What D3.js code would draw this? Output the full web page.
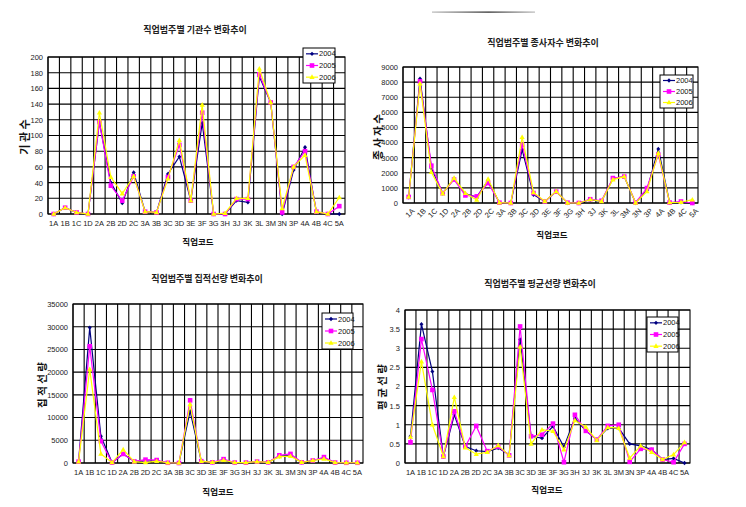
<!DOCTYPE html>
<html><head><meta charset="utf-8">
<script src="https://cdn.jsdelivr.net/npm/d3@7"></script>
<style>
body{margin:0;background:#fff;}
svg{display:block;}
.tick-y{font-family:"Liberation Sans",Arial,sans-serif;font-size:7.5px;fill:#222;}
.tick-x{font-family:"Liberation Sans",Arial,sans-serif;font-size:7.5px;fill:#222;}
.title{font-family:"Noto Sans CJK KR",sans-serif;font-size:9px;font-weight:700;fill:#222;}
.axt{font-family:"Noto Sans CJK KR",sans-serif;font-weight:700;fill:#111;}
.leg{font-family:"Liberation Sans",Arial,sans-serif;font-size:7.5px;fill:#111;}
</style></head>
<body>
<svg id="c" width="746" height="507"></svg>
<script>
// ---------- data ----------
const categories = ["1A","1B","1C","1D","2A","2B","2D","2C","3A","3B","3C","3D","3E","3F","3G","3H","3J","3K","3L","3M","3N","3P","4A","4B","4C","5A"];
const seriesNames = ["2004","2005","2006"];

// 기관수
const inst2004 = [0,8,2,0,117,40,14,53,3,2,51,73,17,116,0,0,17,15,175,142,0,56,85,2,0,0];
const inst2005 = [0,8,2,0,117,36,17,48,3,2,47,88,17,129,0,0,19,19,178,142,2,60,80,3,0,10];
const inst2006 = [0,8,2,0,129,47,26,48,3,2,45,94,17,139,0,1,20,20,185,142,7,60,75,3,0,21];
const instTicks = [0,20,40,60,80,100,120,140,160,180,200];

// 종사자수
const work2004 = [380,8230,2300,650,1600,600,400,1500,20,0,3530,550,100,750,0,0,220,110,1600,1750,0,850,3580,30,50,0];
const work2005 = [400,8050,2470,650,1550,500,440,1320,20,0,3860,660,100,750,20,0,250,150,1650,1750,30,990,3200,30,100,0];
const work2006 = [400,7900,2030,620,1650,650,200,1590,20,0,4350,700,110,770,0,0,230,110,1550,1750,0,770,3300,30,50,220];
const workTicks = [0,1000,2000,3000,4000,5000,6000,7000,8000,9000];

// 집적선량
const coll2004 = [300,29800,5900,100,2000,350,400,500,50,0,11400,400,150,600,100,100,300,150,1500,1700,150,550,1100,100,50,50];
const coll2005 = [300,25700,4800,100,2000,350,740,650,50,0,13800,400,150,850,100,100,300,150,1700,2000,150,550,1300,100,50,50];
const coll2006 = [300,20600,2000,100,2950,300,100,400,50,0,12900,400,150,600,100,100,300,150,1400,1500,150,550,900,100,50,50];
const collTicks = [0,5000,10000,15000,20000,25000,30000,35000];

// 평균선량
const avg2004 = [0.70,3.63,2.39,0.17,1.26,0.43,0.32,0.30,0.39,0.22,3.23,0.70,0.65,0.96,0.42,1.17,0.84,0.61,0.91,0.91,0.50,0.45,0.35,0.09,0.12,0.00];
const avg2005 = [0.54,3.24,1.91,0.17,1.35,0.43,0.97,0.31,0.43,0.20,3.57,0.70,0.74,1.03,0.02,1.26,0.84,0.61,0.97,1.00,0.03,0.37,0.35,0.09,0.02,0.50];
const avg2006 = [0.68,2.65,1.00,0.17,1.72,0.40,0.23,0.28,0.46,0.20,3.04,0.50,0.87,0.83,0.35,1.11,0.94,0.59,0.93,0.91,0.13,0.45,0.28,0.09,0.22,0.54];
const avgTicks = [0,0.5,1,1.5,2,2.5,3,3.5,4];

const titles = ["직업범주별 기관수 변화추이","직업범주별 종사자수 변화추이","직업범주별 집적선량 변화추이","직업범주별 평균선량 변화추이"];
const yTitles = ["기 관 수","종 사 자 수","집 적 선 량","평 균 선 량"];
const xTitle = "직업코드";

// ---------- drawing ----------
const colors = ["#000080","#ff00ff","#ffff00"];
const svg = d3.select("#c");

// decorative line at top
const lg = svg.append("defs").append("linearGradient").attr("id","tl");
lg.append("stop").attr("offset","0%").attr("stop-color","#bbb");
lg.append("stop").attr("offset","55%").attr("stop-color","#222");
lg.append("stop").attr("offset","100%").attr("stop-color","#bbb");
svg.append("rect").attr("x",432).attr("y",11.5).attr("width",103).attr("height",1.2).attr("fill","url(#tl)");

function chart(cfg){
  const g = svg.append("g");
  const x = d3.scaleBand().domain(categories).range([cfg.l,cfg.r]);
  const y = d3.scaleLinear().domain([0,cfg.ticks[cfg.ticks.length-1]]).range([cfg.b,cfg.t]);
  // gridlines
  cfg.ticks.forEach(v=>{
    g.append("line").attr("x1",cfg.l).attr("x2",cfg.r).attr("y1",y(v)).attr("y2",y(v))
      .attr("stroke","#000").attr("stroke-width",1.1);
  });
  categories.forEach((c,i)=>{
    const xx = x(c);
    g.append("line").attr("x1",xx).attr("x2",xx).attr("y1",cfg.t).attr("y2",cfg.b)
      .attr("stroke","#000").attr("stroke-width",1.1);
  });
  g.append("rect").attr("x",cfg.l).attr("y",cfg.t).attr("width",cfg.r-cfg.l).attr("height",cfg.b-cfg.t)
    .attr("fill","none").attr("stroke","#000").attr("stroke-width",1.1);
  // y axis labels
  const ya = d3.axisLeft(y).tickValues(cfg.ticks).tickSize(0).tickPadding(5).tickFormat(d=>String(d));
  const yg = g.append("g").attr("transform",`translate(${cfg.l},0)`).call(ya);
  yg.select(".domain").remove();
  yg.selectAll("text").attr("class","tick-y").attr("font-size",null).attr("font-family",null);
  // x axis labels
  const xa = d3.axisBottom(x).tickSize(0).tickPadding(cfg.rot?4:7);
  const xg = g.append("g").attr("transform",`translate(0,${cfg.b})`).call(xa);
  xg.select(".domain").remove();
  xg.selectAll("text").attr("class","tick-x").attr("font-size",null).attr("font-family",null);
  if(cfg.rot){
    xg.selectAll("text").attr("text-anchor","end").attr("dy","0.3em")
      .attr("transform","translate(2,4) rotate(-45)");
  }
  // series
  const line = d3.line().x((d,i)=>x(categories[i])+x.bandwidth()/2).y(d=>y(d));
  cfg.data.forEach((arr,si)=>{
    g.append("path").datum(arr).attr("d",line).attr("fill","none")
      .attr("stroke",colors[si]).attr("stroke-width",1.2);
    arr.forEach((v,i)=>{
      const cx = x(categories[i])+x.bandwidth()/2, cy = y(v);
      marker(g,si,cx,cy);
    });
  });
  // titles
  g.append("text").attr("class","title").attr("x",cfg.tx).attr("y",cfg.ty).attr("text-anchor","middle").text(cfg.title);
  g.append("text").attr("class","axt").attr("font-size",8.5).attr("x",cfg.xtx).attr("y",cfg.xty).attr("text-anchor","middle").text(xTitle);
  g.append("text").attr("class","axt").attr("font-size",cfg.ytSize)
    .attr("transform",`translate(${cfg.ytx},${cfg.yty}) rotate(-90)`).attr("text-anchor","middle").attr("dy","0.35em").text(cfg.ytitle);
  // legend
  const L = cfg.leg;
  g.append("rect").attr("x",L.x).attr("y",L.y).attr("width",L.w).attr("height",L.h).attr("fill","#fff").attr("stroke","#000").attr("stroke-width",1);
  seriesNames.forEach((s,si)=>{
    const yy = L.y + L.h*(si*2+1)/6;
    g.append("line").attr("x1",L.x+3).attr("x2",L.x+15).attr("y1",yy).attr("y2",yy).attr("stroke",colors[si]).attr("stroke-width",1.2);
    marker(g,si,L.x+9,yy);
    g.append("text").attr("class","leg").attr("x",L.x+16).attr("y",yy).attr("dy","0.35em").text(s);
  });
}
function marker(g,si,cx,cy){
  if(si===0){
    g.append("path").attr("d",`M${cx},${cy-2.2}L${cx+2},${cy}L${cx},${cy+2.2}L${cx-2},${cy}Z`).attr("fill",colors[0]);
  } else if(si===1){
    g.append("rect").attr("x",cx-2.3).attr("y",cy-2.3).attr("width",4.6).attr("height",4.6).attr("fill",colors[1]);
  } else {
    g.append("path").attr("d",`M${cx},${cy-2.8}L${cx+2.6},${cy+1.8}L${cx-2.6},${cy+1.8}Z`).attr("fill",colors[2]);
  }
}

chart({l:48,r:345,t:57,b:214,ticks:instTicks,data:[inst2004,inst2005,inst2006],
  title:titles[0],tx:195,ty:33,xtx:198,xty:245,ytitle:yTitles[0],ytx:25,yty:137,ytSize:11,
  leg:{x:303,y:48,w:32,h:35}});
chart({l:403,r:698,t:67,b:203,ticks:workTicks,data:[work2004,work2005,work2006],rot:true,
  title:titles[1],tx:543,ty:46,xtx:552,xty:238,ytitle:yTitles[1],ytx:378,yty:137,ytSize:10.5,
  leg:{x:660,y:75,w:33,h:33}});
chart({l:73,r:363,t:304,b:463,ticks:collTicks,data:[coll2004,coll2005,coll2006],
  title:titles[2],tx:207,ty:282,xtx:218,xty:495,ytitle:yTitles[2],ytx:42,yty:385,ytSize:10.5,
  leg:{x:322,y:313,w:31,h:36}});
chart({l:405,r:690,t:310,b:463,ticks:avgTicks,data:[avg2004,avg2005,avg2006],
  title:titles[3],tx:540,ty:287,xtx:547,xty:493,ytitle:yTitles[3],ytx:382,yty:387,ytSize:10.5,
  leg:{x:647,y:317,w:31,h:35}});
</script>
</body></html>
